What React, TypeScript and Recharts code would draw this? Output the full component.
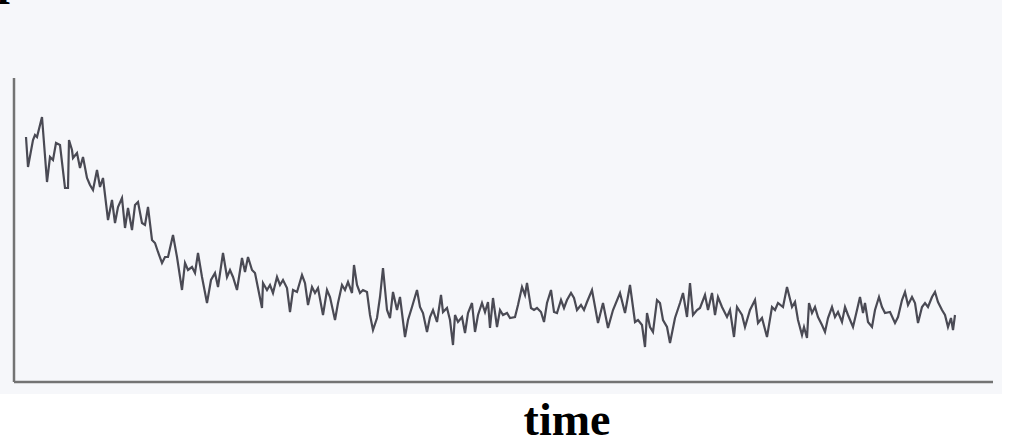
import { LineChart, Line, XAxis, YAxis } from 'recharts';

// time readings (arbitrary units) and signal level
const time = [
  0, 2, 7, 9, 11, 16, 21, 24, 27, 30, 34, 39, 42, 43, 46, 47, 51, 54, 57, 61,
  64, 67, 71, 74, 77, 82, 86, 89, 92, 96, 99, 102, 106, 109, 112, 116, 119, 122, 126, 129,
  132, 136, 139, 142, 147, 151, 156, 159, 162, 166, 169, 172, 176, 181, 185, 189, 192, 197, 201, 204,
  207, 211, 216, 219, 222, 226, 229, 232, 236, 237, 241, 244, 247, 251, 254, 257, 261, 264, 267, 271,
  276, 279, 282, 286, 289, 292, 297, 301, 304, 309, 312, 316, 319, 322, 326, 328, 331, 334, 337, 341,
  344, 347, 351, 354, 357, 361, 364, 367, 371, 374, 379, 382, 386, 391, 394, 397, 401, 404, 407, 411,
  415, 417, 421, 424, 427, 429, 432, 436, 439, 442, 446, 449, 452, 456, 459, 462, 464, 467, 471, 474,
  477, 481, 484, 489, 492, 496, 499, 501, 505, 508, 511, 515, 518, 521, 525, 528, 531, 535, 538, 541,
  545, 548, 551, 555, 558, 561, 566, 572, 577, 582, 587, 594, 599, 604, 609, 612, 616, 619, 621, 624,
  627, 631, 634, 637, 641, 644, 649, 654, 657, 661, 664, 667, 671, 674, 679, 682, 686, 689, 692, 696,
  701, 704, 708, 711, 716, 719, 724, 729, 732, 736, 741, 746, 749, 752, 757, 761, 766, 769, 772, 776,
  778, 781, 783, 786, 789, 792, 796, 799, 802, 806, 809, 812, 816, 819, 822, 827, 831, 834, 837, 839,
  842, 846, 849, 853, 856, 859, 864, 869, 872, 876, 879, 882, 886, 889, 892, 896, 899, 902, 906, 909,
  912, 916, 919, 922, 925, 927, 929,
];

const signal = [
  245, 215, 242, 247, 245, 265, 200, 225, 222, 239, 237, 194, 194, 242, 232, 224, 229, 214, 225, 204,
  197, 192, 212, 195, 204, 162, 182, 159, 175, 184, 154, 174, 152, 177, 180, 159, 157, 175, 142, 139,
  130, 119, 125, 125, 147, 125, 92, 119, 112, 115, 109, 129, 105, 79, 102, 109, 95, 129, 105, 112,
  105, 92, 124, 110, 125, 112, 109, 94, 74, 99, 92, 97, 89, 105, 97, 102, 94, 70, 92, 90,
  107, 99, 77, 95, 89, 94, 67, 92, 85, 62, 79, 97, 92, 100, 89, 117, 97, 89, 92, 90,
  67, 52, 64, 85, 114, 72, 64, 90, 72, 85, 45, 62, 75, 92, 75, 69, 50, 65, 72, 60,
  87, 70, 74, 62, 37, 67, 60, 65, 49, 69, 79, 50, 67, 79, 70, 80, 54, 84, 55, 72,
  67, 69, 64, 65, 77, 95, 87, 99, 74, 72, 74, 70, 60, 79, 92, 70, 69, 82, 74, 82,
  89, 84, 72, 77, 72, 80, 92, 59, 79, 54, 72, 89, 69, 97, 60, 62, 57, 35, 69, 55,
  50, 82, 79, 62, 55, 39, 64, 79, 89, 65, 99, 67, 72, 74, 87, 72, 89, 67, 85, 75,
  65, 72, 45, 75, 67, 55, 72, 82, 59, 64, 45, 75, 72, 79, 75, 95, 75, 80, 62, 47,
  55, 44, 79, 69, 75, 65, 57, 50, 64, 75, 65, 70, 60, 75, 67, 55, 72, 85, 69, 79,
  60, 55, 72, 85, 75, 69, 70, 59, 65, 82, 90, 77, 85, 79, 59, 75, 79, 75, 85, 90,
  80, 72, 67, 55, 64, 52, 67,
];

const data = time.map((t, i) => ({ t, v: signal[i] }));

export default function App() {
  return (
    <div
      style={{
        position: 'absolute',
        left: 0,
        top: 0,
        width: 1031,
        height: 441,
        background: '#ffffff',
        overflow: 'hidden',
      }}
    >
      <div
        style={{
          position: 'absolute',
          left: 0,
          top: 0,
          width: 1002,
          height: 394,
          background: '#f6f7fa',
        }}
      />
      <div style={{ position: 'absolute', left: 0, top: 0 }}>
        <LineChart
          width={1031}
          height={441}
          data={data}
          margin={{ top: 78, right: 38, bottom: 58, left: 13 }}
        >
          <XAxis
            dataKey="t"
            type="number"
            domain={[-12, 967]}
            tick={false}
            tickLine={false}
            height={1}
            axisLine={{ stroke: '#737373', strokeWidth: 2.5 }}
          />
          <YAxis
            type="number"
            domain={[0, 304]}
            tick={false}
            tickLine={false}
            width={1}
            axisLine={{ stroke: '#737373', strokeWidth: 2.5 }}
          />
          <Line
            dataKey="v"
            stroke="#4a4a54"
            strokeWidth={2.2}
            dot={false}
            isAnimationActive={false}
          />
        </LineChart>
      </div>
      <svg
        width={1031}
        height={441}
        style={{ position: 'absolute', left: 0, top: 0, pointerEvents: 'none' }}
      >
        <text x={-3} y={-6} fontFamily="'Liberation Serif', serif" fontWeight="bold" fontSize={46} fill="#000">
          p
        </text>
        <text
          x={567}
          y={435}
          textAnchor="middle"
          fontFamily="'Liberation Serif', serif"
          fontWeight="bold"
          fontSize={46}
          fill="#000"
        >
          time
        </text>
      </svg>
    </div>
  );
}
